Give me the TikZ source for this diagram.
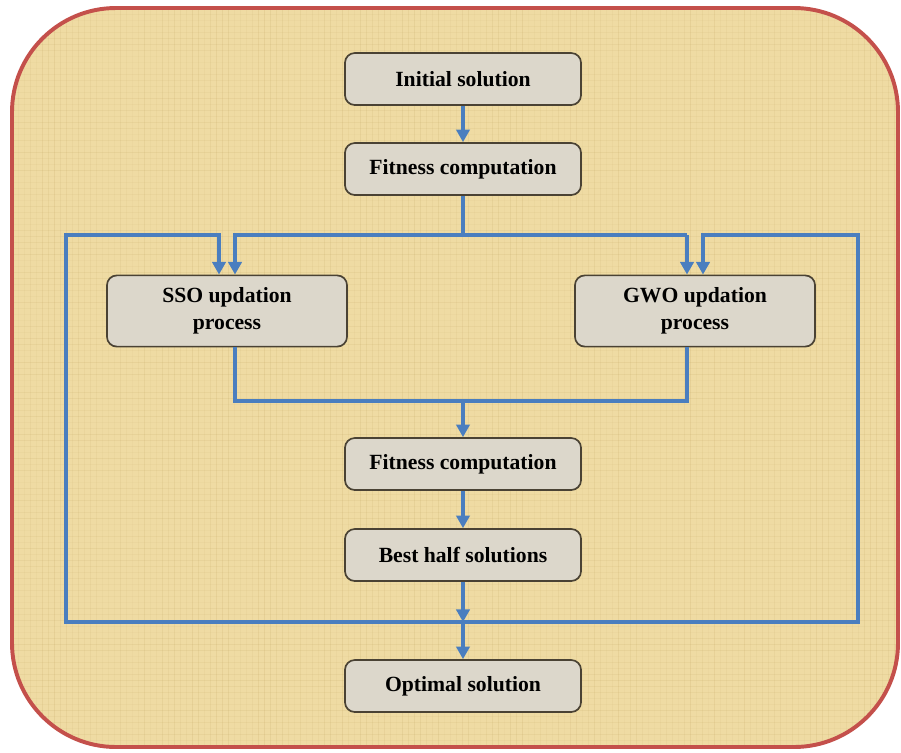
\documentclass[tikz,border=0pt]{standalone}
\usepackage{fontspec}
\setmainfont{Liberation Serif}
\usetikzlibrary{arrows.meta, positioning}

\definecolor{papyrus}{HTML}{EFDBA3}
\definecolor{fibre}{HTML}{B89A55}
\definecolor{framered}{HTML}{C4504B}
\definecolor{flowblue}{HTML}{4A7EBF}
\definecolor{boxgrey}{HTML}{DCD7CB}
\definecolor{boxedge}{HTML}{4A4234}

\begin{document}
\begin{tikzpicture}[
    x=0.025cm, y=-0.025cm,
    stepbox/.style={draw=boxedge, line width=1.2pt, fill=boxgrey, rectangle, rounded corners=7pt,
      align=center, minimum width=5.9cm, minimum height=1.3cm, inner sep=2pt,
      font=\bfseries\fontsize{15.4}{19}\selectfont},
    widebox/.style={stepbox, minimum width=6cm, minimum height=1.78cm},
    link/.style={draw=flowblue, line width=2.8pt},
    flow/.style={link, -{Triangle[length=9pt, width=9.5pt]}}
  ]
  \useasboundingbox (0,0) rectangle (901,752);

  % papyrus background
  \path[fill=papyrus] (12,8) [rounded corners=2.6cm] rectangle (898,747);
  \begin{scope}
    \clip (12,8) [rounded corners=2.6cm] rectangle (898,747);
    \pgfmathsetseed{7}
    \foreach \i in {12,18,...,898} {
      \pgfmathsetmacro{\op}{0.04+0.12*rnd}
      \draw[fibre, line width=0.6pt, opacity=\op] (\i,8) -- (\i,747);
    }
    \foreach \j in {8,14,...,747} {
      \pgfmathsetmacro{\op}{0.04+0.10*rnd}
      \draw[fibre, line width=0.6pt, opacity=\op] (12,\j) -- (898,\j);
    }
  \end{scope}
  \draw[framered, line width=2.8pt] (12,8) [rounded corners=2.6cm] rectangle (898,747);

  % steps
  \node[stepbox] (init) at (463,79) {Initial solution};
  \node[stepbox] (fit1) at (463,169) {Fitness computation};
  \node[widebox] (sso) at (227,311) {SSO updation\\process};
  \node[widebox] (gwo) at (695,311) {GWO updation\\process};
  \node[stepbox] (fit2) at (463,464) {Fitness computation};
  \node[stepbox] (best) at (463,555) {Best half solutions};
  \node[stepbox] (opt) at (463,686) {Optimal solution};

  % junction points
  \coordinate (bus) at (463,235);
  \coordinate (join) at (463,401);
  \coordinate (back) at (463,622);
  \coordinate (loopL) at (66,235);
  \coordinate (loopR) at (858,235);
  \coordinate (ssoL) at ([xshift=-0.2cm]sso.north);
  \coordinate (ssoR) at ([xshift=0.2cm]sso.north);
  \coordinate (gwoL) at ([xshift=-0.2cm]gwo.north);
  \coordinate (gwoR) at ([xshift=0.2cm]gwo.north);

  % connectors
  \draw[flow] (init) -- (fit1);
  \draw[link] (fit1) -- (bus);
  \draw[flow] (gwoL |- bus) -- (ssoR |- bus) -- (ssoR);
  \draw[flow] (gwoL |- bus) -- (gwoL);
  \draw[link] (ssoR |- sso.south) -- (ssoR |- join) -- (gwoL |- join) -- (gwoL |- gwo.south);
  \draw[flow] (join) -- (fit2);
  \draw[flow] (fit2) -- (best);
  \draw[flow] (best) -- (back);
  \draw[flow] (back) -| (loopL) -| (ssoL);
  \draw[flow] (back) -| (loopR) -| (gwoR);
  \draw[flow] (back) -- (opt);
\end{tikzpicture}
\end{document}
